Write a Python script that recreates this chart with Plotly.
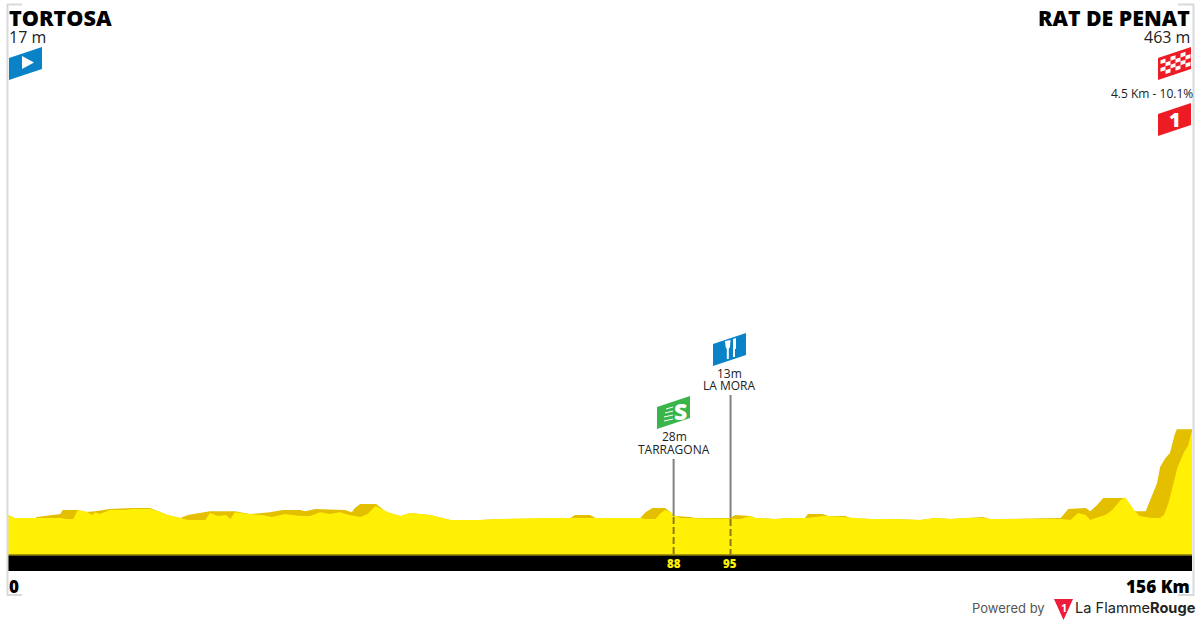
import plotly.graph_objects as go

# ---- data (km, metres) ----
upper_km = [0,0.9,3.6,3.8,6.9,7.2,9.2,9.8,11.5,13.4,16.5,18.7,19.8,21.0,22.7,23.7,26.6,29.9,31.9,34.5,36.2,38.5,39.1,40.5,44.4,45.3,45.7,46.4,48.5,49.7,50.3,51.7,53.0,55.6,58.3,62.2,64.8,71.4,74.1,74.7,76.7,77.4,83.3,84.0,84.9,86.6,87.3,87.9,89.9,90.5,95.2,95.8,97.8,98.5,101.1,103.1,105.0,105.4,107.3,108.1,110.3,111.0,113.6,116.2,120.2,122.2,124.2,126.1,127.4,128.4,129.4,130.7,138.7,139.7,142.0,142.6,143.5,144.3,147.0,147.5,148.1,149.9,150.5,151.4,151.8,152.5,153.1,153.7,154.0,156]
upper_m = [27,12,12,17,32,53,53,42,47,58,63,63,47,27,12,27,47,47,32,42,53,53,47,58,53,42,63,83,83,47,37,22,37,27,2,2,7,12,12,27,27,12,12,42,63,63,42,22,17,12,12,27,22,12,7,12,12,32,32,22,22,12,7,7,2,12,7,12,17,17,7,7,12,58,63,47,78,114,114,78,47,47,103,190,271,317,342,434,463,463]

lower_km = [0,0.9,6.9,7.7,8.6,9.2,10.2,11.1,11.5,12.1,13.4,15.4,16.5,18.7,19.8,21.0,22.7,23.7,26.0,26.6,27.7,28.7,29.3,29.9,31.9,33.5,34.8,36.5,38.5,39.8,41.1,42.4,43.7,45.0,46.4,47.4,48.4,49.7,50.3,51.7,53.0,55.6,58.3,62.2,64.8,71.4,74.1,77.4,83.3,84.0,85.3,86.0,86.6,87.3,87.9,88.6,95.2,96.5,97.8,98.5,101.1,103.1,105.4,107.3,108.1,110.3,111.0,113.6,116.2,120.2,122.2,124.2,126.1,128.4,129.4,130.7,138.7,140.0,141.0,142.0,142.6,143.3,144.6,145.5,146.6,147.2,147.8,148.5,149.1,150.7,151.8,152.3,152.9,153.3,153.9,154.1,154.9,155.5,156]
lower_m = [27,12,12,7,7,53,47,27,42,32,53,53,58,58,47,27,12,2,2,37,22,27,7,42,32,27,17,32,22,22,42,32,42,27,17,32,73,47,37,22,37,27,2,2,7,12,12,12,12,7,7,37,53,42,22,12,7,7,22,12,7,12,12,22,22,17,12,7,7,2,12,7,12,12,7,7,7,2,37,27,2,12,27,53,103,118,83,47,22,12,12,27,88,154,246,271,342,382,458]

stop_km = [87.7, 95.2]
stop_elev_m = [22, 12]
stop_top_m = [312, 637]
stop_ticks = ["88", "95"]
stop_alt = ["28m", "13m"]
stop_names = ["TARRAGONA", "LA MORA"]

band_top_m = -176
band_bottom_m = -257
y_top_m = 2577

# ---- colours ----
YELLOW = "#FFF005"
DARK = "#E3BF00"
W, H = 1200, 625


def px(x):
    return x / W


def py(y):
    return 1 - y / H


fig = go.Figure()
base = dict(x=[0, 156], y=[band_top_m, band_top_m], mode="lines", line=dict(width=0), showlegend=False, hoverinfo="skip")
fig.add_trace(go.Scatter(**base))
fig.add_trace(go.Scatter(x=upper_km, y=upper_m, mode="lines", line=dict(width=0, color=DARK), fill="tonexty", fillcolor=DARK, showlegend=False))
fig.add_trace(go.Scatter(**base))
fig.add_trace(go.Scatter(x=lower_km, y=lower_m, mode="lines", line=dict(width=0, color=YELLOW), fill="tonexty", fillcolor=YELLOW, showlegend=False))
fig.add_trace(go.Scatter(x=[0, 156], y=[band_top_m, band_top_m], mode="lines", line=dict(width=1.5, color="#8A7A10"), showlegend=False))

for k, e, t in zip(stop_km, stop_elev_m, stop_top_m):
    fig.add_trace(go.Scatter(x=[k, k], y=[e, t], mode="lines", line=dict(width=2, color="#808080"), showlegend=False))
    fig.add_trace(go.Scatter(x=[k, k], y=[e - 5, band_top_m], mode="lines", line=dict(width=2, color="#8A7A10", dash="7px,3px"), showlegend=False))

shapes = [dict(type="rect", xref="x", yref="y", x0=0, x1=156, y0=band_bottom_m, y1=band_top_m, fillcolor="#000", line_width=0, layer="below")]


def poly(points, color):
    d = "M" + " L".join(f"{px(a):.5f},{py(b):.5f}" for a, b in points) + " Z"
    shapes.append(dict(type="path", xref="paper", yref="paper", path=d, fillcolor=color, line_width=0))


def flag(x0, top_right, color):
    poly([(x0, top_right + 11), (x0 + 33, top_right), (x0 + 33, top_right + 22), (x0, top_right + 33)], color)


def rule(x0, y0, x1, y1, color, w):
    shapes.append(dict(type="line", xref="paper", yref="paper", x0=px(x0), x1=px(x1), y0=py(y0), y1=py(y1), line=dict(color=color, width=w)))


# frame
GR = "#D9D9D9"
rule(7.5, 4, 7.5, 596, GR, 2)
rule(1193.5, 4, 1193.5, 596, GR, 2)
rule(7, 4.5, 22, 4.5, GR, 2)
rule(7, 595, 22, 595, GR, 2)
rule(1178, 4.5, 1194, 4.5, GR, 2)
rule(1178, 595, 1194, 595, GR, 2)

# start flag
flag(9, 47, "#0A82C8")
poly([(22, 56), (34, 62.5), (22, 69)], "#FFFFFF")

# finish flag with checks
flag(1158, 47, "#ED1C24")
cols, rows = 6, 4
for c in range(cols):
    for r in range(rows):
        if (c + r) % 2 == 0:
            cw = 5.0
            rh = 3.9
            xa = 1160.5 + c * cw
            xb = xa + cw
            ya = lambda x: 47 + 11 * (1191 - x) / 33 + 3 + r * rh
            poly([(xa, ya(xa)), (xb, ya(xb)), (xb, ya(xb) + rh), (xa, ya(xa) + rh)], "#FFFFFF")

# KOM flag
flag(1158, 103, "#ED1C24")

# feed flag: fork and knife
flag(713, 333, "#0A82C8")
poly([(725, 341), (730.5, 340), (730, 347), (728.8, 349), (728.8, 359), (726.8, 359), (726.8, 349), (725.6, 347)], "#FFFFFF")
poly([(733, 339), (736, 338), (736, 349), (735, 349), (735, 357), (733, 357)], "#FFFFFF")

# sprint flag
flag(657, 396, "#39B54A")
for a, b in [(666, 409), (665, 413), (664, 417), (664, 421)]:
    rule(a, b, 673, b - 2, "#FFFFFF", 1)

# logo
poly([(1054, 599), (1073, 599), (1063.5, 620)], "#ED1C3C")

ann = []


def label(x, y, text, size, color="#000", anchor="left", family="Open Sans", weight=None):
    ann.append(dict(xref="paper", yref="paper", x=px(x), y=py(y), text=text, showarrow=False, xanchor=anchor, yanchor="middle",
                    borderpad=0, font=dict(size=size, color=color, family=family, weight=weight)))


label(8, 17, "TORTOSA", 21.6, weight=800)
label(8, 37, "17 m", 16, "#222")
label(1191, 17, "RAT DE PENAT", 21.3, anchor="right", weight=800)
label(1191, 37, "463 m", 16, "#222", anchor="right")
label(1193.5, 94, "4.5 Km - 10.1%", 12, "#222", anchor="right")
label(1175, 119, "1", 20, "#FFFFFF", anchor="center", weight=800)
label(680, 411, "S", 23, "#FFFFFF", anchor="center", weight=800)
label(8, 586, "0", 17, weight=800)
label(1191, 586, "156 Km", 17.2, anchor="right", weight=800)
label(1063.5, 607, "1", 11, "#FFFFFF", anchor="center", weight=700)
label(971, 608, "Powered by", 13, "#555", family="Inter")
label(1074, 608, "La Flamme<b>Rouge</b>", 14.6, "#222", family="Inter")

stop_px = [674, 730]
alt_y = [436, 373]
name_y = [449, 385]
for k, t, a, n, ay, ny, sx in zip(stop_km, stop_ticks, stop_alt, stop_names, alt_y, name_y, stop_px):
    label(sx, 563, t, 11.5, YELLOW, anchor="center", weight=800)
    label(sx, ay, a, 12, "#222", anchor="center")
    label(sx, ny, n, 12, "#222", anchor="center")

fig.update_layout(
    width=W, height=H, margin=dict(l=0, r=0, t=0, b=0), paper_bgcolor="#FFF", plot_bgcolor="rgba(0,0,0,0)",
    showlegend=False, shapes=shapes, annotations=ann,
    xaxis=dict(range=[0, 156], domain=[8 / W, 1192 / W], visible=False, fixedrange=True),
    yaxis=dict(range=[band_bottom_m, y_top_m], domain=[1 - 571 / H, 1 - 13 / H], visible=False, fixedrange=True),
)
fig.write_html("out.html", config={"displayModeBar": False},
               post_script="document.body.style.margin='0';document.body.style.overflow='hidden';")
